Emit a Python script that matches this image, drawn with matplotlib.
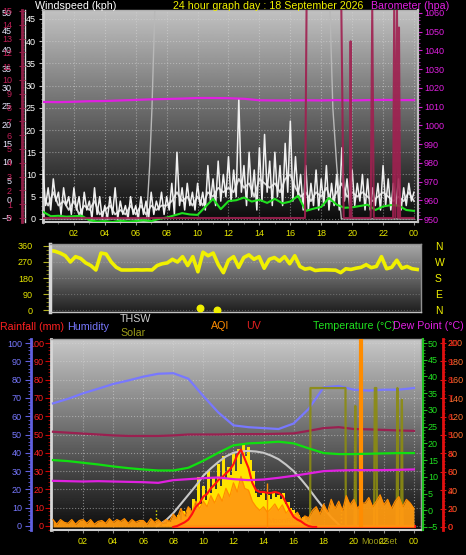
import numpy as np
import matplotlib.pyplot as plt
from matplotlib.ticker import MultipleLocator

plt.rcParams['font.family'] = ['Liberation Sans', 'DejaVu Sans']

W, H, DPI = 466, 555, 100

hour_ticks = [2, 4, 6, 8, 10, 12, 14, 16, 18, 20, 22, 24]
hour_labels = ['02', '04', '06', '08', '10', '12', '14', '16', '18', '20', '22', '00']

# ---- top panel: gust (kph, every 10 min), speed (every 20 min), average (half hourly), barometer (hourly)
wind_gust = [11, 3, 7, 2, 9, 4, 6, 1, 7, 3, 5, 1, 7, 2, 5, 0, 6, 2, 4, 0, 7, 1, 5, 0,
             3, 0, 5, 1, 7, 0, 4, 1, 3, 0, 5, 1, 3, 0, 5, 1, 4, 0, 6, 1, 4, 2, 6, 1,
             5, 2, 8, 1, 15, 3, 7, 2, 8, 3, 6, 2, 8, 3, 6, 2, 12, 4, 9, 3, 13, 4, 10, 5,
             14, 4, 11, 5, 27, 6, 12, 3, 15, 5, 11, 2, 16, 4, 19, 6, 13, 3, 15, 5, 12, 3, 17, 6,
             22, 4, 14, 5, 10, 2, 12, 2, 8, 3, 11, 2, 9, 3, 12, 2, 8, 3, 10, 2, 16, 4, 9, 3,
             11, 3, 8, 4, 10, 2, 9, 2, 7, 3, 8, 2, 12, 3, 9, 2, 8, 3, 9, 2, 7, 3, 8, 4, 6]
wind_speed = [5, 3, 6, 3, 4, 2, 4, 1, 3, 2, 4, 1, 2, 3, 1, 2, 1, 3, 1, 3, 1, 3, 2, 3,
              3, 4, 6, 4, 5, 3, 5, 3, 6, 5, 7, 6, 7, 6, 9, 7, 8, 5, 9, 8, 7, 8, 6, 9,
              10, 7, 5, 6, 4, 6, 5, 7, 4, 6, 8, 5, 6, 5, 6, 5, 4, 5, 6, 5, 4, 5, 4, 6, 4]
wind_avg = [1.6, 0.6, 0.7, 0.5, 0.6, 0.7, -0.3, -0.6, -0.5, -0.7,
            -0.4, -0.6, -0.5, -0.3, -0.5, 0.0, 0.3, 0.8, 1.3, 1.0,
            0.9, 2.7, 4.5, 2.2, 4.0, 4.2, 4.8, 3.9, 4.3, 3.6,
            4.5, 3.5, 3.9, 5.2, 1.8, 2.3, 2.7, 4.7, 3.2, 2.5,
            2.6, 2.9, 3.2, 2.0, 2.8, 3.1, 3.0, 2.0, 1.8]
baro_hpa = [1012.5, 1012.4, 1012.6, 1012.9, 1013.0, 1013.3, 1013.6, 1013.9, 1014.1,
            1014.3, 1014.6, 1014.6, 1014.5, 1014.2, 1013.4, 1013.3, 1013.3, 1013.4,
            1013.3, 1013.5, 1013.3, 1013.5, 1013.6, 1013.5, 1013.5]
sun_t = [0, 6.7, 6.9, 7.05, 7.25, 18.55, 18.75, 19.0, 19.3, 24]
sun_v = [0, 0, 12, 25, 49, 49, 25, 12, 0, 0]
rate_t = [0, 16.95, 17.05, 19.3, 19.45, 19.85, 19.9, 19.95, 21.2, 21.3, 21.4,
          22.65, 22.72, 22.8, 22.9, 22.98, 23.03, 23.1, 24]
rate_v = [0, 0, 15.2, 15.2, 0, 0, 12.8, 0, 0, 15.2, 0, 0, 15.2, 0, 15.2, 0, 13.8, 0, 0]

# ---- middle panel: wind direction (deg, every 20 min)
wind_dir = [335, 330, 320, 305, 270, 300, 290, 265, 250, 225, 320, 315,
            270, 240, 225, 225, 225, 226, 225, 226, 225, 250, 260, 265,
            285, 270, 300, 250, 300, 215, 325, 305, 320, 255, 210, 280,
            300, 240, 295, 310, 285, 300, 235, 285, 295, 275, 300, 260,
            305, 245, 230, 235, 222, 225, 226, 225, 224, 210, 232, 228,
            235, 240, 255, 238, 245, 300, 232, 240, 280, 235, 245, 232, 228]
calm_t = [9.8, 10.9]
calm_v = [13, 0]
compass = ['N', 'E', 'S', 'W', 'N']

# ---- bottom panel (hourly unless noted)
humidity = [67, 69.5, 72.5, 75, 77.6, 79.5, 81.6, 83.2, 83.5, 80.5, 71, 62, 55,
            54, 53.5, 53, 56, 64, 75.8, 76.5, 74.5, 74, 74.5, 74.5, 75.4]
crimson = [51.5, 51, 50.5, 50, 49.5, 49.2, 49.2, 49.2, 49.5, 50, 50, 50, 50.2,
           50.2, 50.2, 50.4, 50.6, 52, 53.5, 54, 53, 52.8, 52.5, 52.2, 52]
temp_c = [15.0, 14.7, 14.2, 13.7, 13.1, 12.6, 12.2, 11.9, 11.9, 12.7, 14.8, 17.2, 19.4,
          20.0, 20.2, 20.5, 20.0, 18.5, 17.1, 16.8, 16.8, 16.9, 17.0, 17.1, 17.1]
dew_c = [8.8, 8.7, 8.6, 8.7, 8.6, 8.5, 8.4, 8.2, 9.0, 9.3, 9.6, 9.8, 9.3,
         9.0, 9.2, 9.7, 10.3, 11.0, 11.7, 11.9, 12.0, 12.0, 12.0, 12.1, 12.2]
thsw_t = [6.9, 7.5, 8, 8.5, 9, 9.5, 10, 10.5, 11, 11.5, 12, 12.5, 13,
          13.5, 14, 14.5, 15, 15.5, 16, 16.5, 17, 17.5, 18, 18.5, 19.1]
thsw_v = [0, 3, 7, 12, 17, 22, 27.5, 31.5, 35, 38, 40, 40.8, 41,
          40.7, 40, 38.5, 36.5, 33.5, 30, 25.5, 20.5, 15, 9.8, 4.8, 0]
solar_start = 7.0  # 10 minute values
solar = [0, 0, 1, 1, 2, 2, 3, 4, 6, 3, 8, 5, 10, 6, 15, 9, 27, 12,
         22, 14, 30, 18, 26, 20, 34, 22, 38, 26, 32, 28, 40, 30, 42, 34, 44, 38,
         43, 36, 30, 18, 16, 17, 18, 14, 17, 15, 18, 16, 17, 15, 18, 12, 13, 10,
         9, 7, 6, 4, 5, 3, 2, 1, 0]
uv_start = 8.0  # 15 minute values
uv = [0, 0.05, 0.15, 0.25, 0.4, 0.7, 1.1, 1.3, 1.65, 1.8, 2.1, 2.3, 2.55, 2.7, 2.9, 3.1,
      3.4, 3.9, 4.2, 3.7, 3.2, 2.4, 2.0, 1.9, 1.9, 1.85, 1.85, 1.9, 1.85, 1.7, 1.3, 0.9,
      0.55, 0.4, 0.3, 0.15, 0.05, 0.0, 0.0]
aqi = [8, 3, 8, 5, 4, 8, 3, 7, 8, 4, 8, 3, 6, 7, 4, 9, 5, 8, 6, 9, 4, 8, 5, 7,
       7, 3, 9, 5, 8, 4, 8, 6, 14, 9, 20, 12, 22, 16, 28, 20, 28, 22, 34, 26,
       36, 28, 42, 33, 48, 38, 55, 42, 40, 28, 22, 18, 22, 16, 20, 25, 18, 24, 15, 20,
       12, 16, 8, 12, 10, 18, 22, 14, 25, 16, 30, 20, 28, 18, 34, 24, 30, 20, 26, 26,
       32, 22, 28, 35, 24, 30, 20, 28, 33, 22, 30, 26, 20]
aqi_spike_t = [14.2, 20.45]
aqi_spike_v = [48, 205]
olive_t = [17.1, 17.12, 19.45, 19.47, 20.05, 20.1, 20.15, 21.35, 21.4, 21.5, 21.55,
           22.85, 22.9, 22.95, 23.15, 23.2, 23.25, 24]
olive_v = [0, 75.4, 75.4, 0, 0, 65.6, 0, 0, 75.4, 75.4, 0, 0, 75.4, 0, 0, 69, 0, 0]
rain_t = [8.1, 24]
rain_v = [0, 0]
sun_marks = [6.85, 19.15]


def box(x0, y0, x1, y1):
    return [x0 / W, 1 - y1 / H, (x1 - x0) / W, (y1 - y0) / H]


def pts(px):
    return px * 72 / DPI


def shade(ax, top, bottom):
    g = np.linspace(bottom, top, 256).reshape(-1, 1)
    ax.imshow(g, cmap='gray', vmin=0, vmax=1, aspect='auto', origin='lower',
              extent=[0, 1, 0, 1], transform=ax.transAxes, zorder=0)


def only_spine(ax, side, color, lw, outward=0):
    for name, sp in ax.spines.items():
        sp.set_visible(name == side)
    ax.spines[side].set_color(color)
    ax.spines[side].set_linewidth(lw)
    ax.spines[side].set_position(('outward', pts(outward)))
    if side == 'left':
        ax.yaxis.tick_left()
    else:
        ax.yaxis.tick_right()


fig = plt.figure(figsize=(W / DPI, H / DPI), dpi=DPI, facecolor='black')

# ================= top panel =================
ax1 = fig.add_axes(box(43, 10, 418, 222))
shade(ax1, 0.76, 0.04)
ax1.set_xlim(0, 24.26)
ax1.set_ylim(-0.7, 47)
ax1.set_xticks(hour_ticks, hour_labels)
ax1.xaxis.set_minor_locator(MultipleLocator(1))
ax1.set_yticks(range(0, 50, 5))
ax1.yaxis.set_minor_locator(MultipleLocator(1))
ax1.grid(True, which='major', color='#d8d8d8', ls=':', lw=0.8, alpha=0.5)
ax1.tick_params(axis='y', which='major', colors='#c0c0c0', labelcolor='white',
                labelsize=6.5, length=pts(4), pad=pts(3))
ax1.tick_params(axis='y', which='minor', colors='#909090', length=pts(2))
ax1.tick_params(axis='x', which='major', colors='#909090', labelcolor='#e8e800',
                labelsize=6.5, length=pts(3), pad=pts(4))
ax1.tick_params(axis='x', which='minor', colors='#707070', length=pts(2))
for name, c, lw in [('left', '#d0d0d0', 2), ('bottom', '#c8c8c8', 1.5),
                    ('top', '#b0b0b0', 1), ('right', '#c0c0c0', 1.5)]:
    ax1.spines[name].set_color(c)
    ax1.spines[name].set_linewidth(lw)

ax1.plot(sun_t, sun_v, color='#b8b8b8', lw=1, zorder=2)
ax1.plot(np.linspace(0, 24, len(wind_speed)), wind_speed, color='#d8d8d8', lw=1.3, zorder=3)
ax1.plot(np.linspace(0, 24, len(wind_gust)), wind_gust, color='#f0f0f0', lw=1.1, zorder=3)
ax1.plot(np.linspace(0, 24, len(wind_avg)), wind_avg, color='#20e020', lw=1.5, zorder=4)

ax_baro = ax1.twinx()
only_spine(ax_baro, 'right', '#c0c0c0', 1.5)
ax_baro.set_ylim(948.4, 1061.6)
ax_baro.set_yticks(range(950, 1061, 10))
ax_baro.yaxis.set_minor_locator(MultipleLocator(2))
ax_baro.tick_params(axis='y', which='major', colors='#d020d0', labelcolor='#e020e0',
                    labelsize=6.5, length=pts(4), pad=pts(2))
ax_baro.tick_params(axis='y', which='minor', colors='#b020b0', length=pts(2))
ax_baro.plot(np.linspace(0, 24, len(baro_hpa)), baro_hpa, color='#e020e0', lw=1.6)

ax_wt = ax1.twinx()
only_spine(ax_wt, 'left', '#e0e0e0', 1, outward=18)
ax_wt.set_ylim(-6.07, 50.6)
ax_wt.set_yticks(range(-5, 51, 5))
ax_wt.tick_params(axis='y', labelcolor='#e8e8ff', labelsize=6.5, length=0, pad=pts(13))

ax_red = ax1.twinx()
only_spine(ax_red, 'left', '#902048', 2, outward=21)
ax_red.set_ylim(-0.29, 15.07)
ax_red.set_yticks(range(0, 16))
ax_red.yaxis.set_minor_locator(MultipleLocator(0.25))
ax_red.tick_params(axis='y', which='major', direction='inout', colors='#a02050',
                   labelcolor='#c02058', labelsize=6.5, length=pts(6), pad=pts(7))
ax_red.tick_params(axis='y', which='minor', direction='inout', colors='#a02050',
                   length=pts(3))
ax_red.plot(rate_t, rate_v, color='#a02050', lw=1.5, alpha=0.9)

# ================= middle panel =================
ax2 = fig.add_axes(box(50, 244, 421, 312))
shade(ax2, 0.66, 0.12)
ax2.set_xlim(0, 24.25)
ax2.set_ylim(-11, 371)
ax2.set_xticks([])
ax2.set_yticks([0, 90, 180, 270, 360])
ax2.yaxis.set_minor_locator(MultipleLocator(22.5))
ax2.grid(True, axis='y', color='#c0c0c0', ls=':', lw=0.8, alpha=0.35)
ax2.tick_params(axis='y', which='major', colors='#b0b020', labelcolor='#e8e800',
                labelsize=6.5, length=pts(7), pad=pts(10))
ax2.tick_params(axis='y', which='minor', colors='#909010', length=pts(4))
for name, c, lw in [('left', '#d8d8d8', 2.5), ('bottom', '#c0c0c0', 1),
                    ('top', '#909090', 1), ('right', '#909090', 1)]:
    ax2.spines[name].set_color(c)
    ax2.spines[name].set_linewidth(lw)
ax2.plot(np.linspace(0, 24, len(wind_dir)), wind_dir, color='#f0f000', lw=2.6,
         solid_joinstyle='round')
ax2.scatter(calm_t, calm_v, s=22, color='#f0f000', zorder=5)

ax2r = ax2.twinx()
for sp in ax2r.spines.values():
    sp.set_visible(False)
ax2r.set_ylim(-11, 371)
ax2r.set_yticks([0, 90, 180, 270, 360], compass)
ax2r.tick_params(axis='y', labelcolor='#f0f000', labelsize=7.5, length=0, pad=pts(14))

# ================= bottom panel =================
ax3 = fig.add_axes(box(51, 339, 421, 530))
shade(ax3, 0.78, 0.05)
ax3.set_xlim(-0.13, 24.47)
ax3.set_ylim(-2.2, 102.2)
ax3.set_xticks(hour_ticks, hour_labels)
ax3.xaxis.set_minor_locator(MultipleLocator(1))
ax3.set_yticks(range(0, 101, 10))
ax3.yaxis.set_minor_locator(MultipleLocator(2))
ax3.grid(True, which='major', color='#d8d8d8', ls=':', lw=0.8, alpha=0.5)
ax3.tick_params(axis='y', which='major', colors='#d00000', labelcolor='#ff2020',
                labelsize=6.5, length=pts(6), pad=pts(1))
ax3.tick_params(axis='y', which='minor', colors='#b00000', length=pts(3))
ax3.tick_params(axis='x', which='major', colors='#909090', labelcolor='#e8e800',
                labelsize=6.5, length=pts(3), pad=pts(4))
ax3.tick_params(axis='x', which='minor', colors='#707070', length=pts(2))
for name, c, lw in [('left', '#d8d8d8', 2), ('bottom', '#d0d0d0', 1.5),
                    ('top', '#a0a0a0', 1), ('right', '#a0a0a0', 1)]:
    ax3.spines[name].set_color(c)
    ax3.spines[name].set_linewidth(lw)

t_hour = np.linspace(0, 24, len(humidity))
t_solar = solar_start + np.arange(len(solar)) / 6
ax3.fill_between(t_solar, solar, step='mid', color='#ffe400', lw=0, zorder=2)
ax3.plot(thsw_t, thsw_v, color='#c8c8c8', lw=1.5, zorder=3)
ax3.plot(t_hour, humidity, color='#7878ff', lw=1.6, zorder=3)
ax3.plot(t_hour, crimson, color='#9a2050', lw=1.6, zorder=3)
ax3.plot(olive_t, olive_v, color='#8c8c10', lw=1.6, alpha=0.9, zorder=3)
ax3.vlines(sun_marks, 0, 9, colors='#e8e800', linestyles=':', lw=1, zorder=3)
ax3.plot(rain_t, rain_v, color='#ff1010', lw=2.2, zorder=4)
ax3.text(15.4, 0.8, 'MoonRise', color='#e03020', fontsize=5.5, ha='center',
         va='bottom', alpha=0.7, zorder=4)

ax_hum = ax3.twinx()
only_spine(ax_hum, 'left', '#6060e0', 2, outward=20)
ax_hum.set_ylim(-2.2, 102.2)
ax_hum.set_yticks(range(0, 101, 10))
ax_hum.yaxis.set_minor_locator(MultipleLocator(2))
ax_hum.tick_params(axis='y', which='major', colors='#6060e0', labelcolor='#7878ff',
                   labelsize=6.5, length=pts(6), pad=pts(3))
ax_hum.tick_params(axis='y', which='minor', colors='#6060e0', length=pts(3))

ax_aqi = ax3.twinx()
only_spine(ax_aqi, 'right', '#e01010', 2, outward=22)
ax_aqi.set_ylim(-3.3, 204.3)
ax_aqi.set_yticks(range(0, 201, 20))
ax_aqi.yaxis.set_minor_locator(MultipleLocator(4))
ax_aqi.tick_params(axis='y', which='major', direction='inout', colors='#e01010',
                   labelcolor='#ff7030', labelsize=6.5, length=pts(6), pad=pts(2))
ax_aqi.tick_params(axis='y', which='minor', direction='inout', colors='#c01010',
                   length=pts(3))
t_aqi = np.linspace(0, 24, len(aqi))
ax_aqi.fill_between(t_aqi, aqi, color='#ff9a10', lw=0, alpha=0.95)
ax_aqi.plot(t_aqi, aqi, color='#ff8c00', lw=0.9)
ax_aqi.vlines(aqi_spike_t, 0, aqi_spike_v, colors='#ff8c00', lw=[1, 3])

ax_uv = ax3.twinx()
for sp in ax_uv.spines.values():
    sp.set_visible(False)
ax_uv.spines['right'].set_position(('outward', pts(22)))
ax_uv.set_ylim(-0.165, 10.2)
ax_uv.set_yticks(range(0, 11))
ax_uv.tick_params(axis='y', direction='inout', colors='none', labelcolor='#d81010',
                  labelsize=6.5, length=pts(6), pad=pts(2))
ax_uv.plot(uv_start + np.arange(len(uv)) / 4, uv, color='#ff1010', lw=1.5)

ax_t = ax3.twinx()
only_spine(ax_t, 'right', '#20c020', 1.5, outward=2)
ax_t.set_ylim(-5.9, 51.2)
ax_t.set_yticks(range(-5, 51, 5))
ax_t.yaxis.set_minor_locator(MultipleLocator(1))
ax_t.tick_params(axis='y', which='major', colors='#20c020', labelcolor='#20e020',
                 labelsize=6.5, length=pts(4), pad=pts(1))
ax_t.tick_params(axis='y', which='minor', colors='#20a020', length=pts(2))
ax_t.plot(t_hour, temp_c, color='#10e010', lw=1.6)
ax_t.plot(t_hour, dew_c, color='#e020e0', lw=1.6)


# ================= header texts =================
def label(x, y, s, color):
    fig.text(x / W, 1 - y / H, s, color=color, fontsize=7.7, va='center', ha='left')


label(35, 6, 'Windspeed (kph)', 'white')
label(173, 6, '24 hour graph day : 18 September 2026', '#f0f000')
label(371, 6, 'Barometer (hpa)', '#e020e0')
label(0, 327, 'Rainfall (mm)', '#ff2020')
label(67, 327, 'Humidity', '#7878ff')
label(120, 319, 'THSW', '#d0d0d0')
label(120, 333, 'Solar', '#9a9a18')
label(211, 326, 'AQI', '#ff8c00')
label(246, 326, 'UV', '#e02020')
label(313, 326, 'Temperature (°C)', '#20e020')
label(393, 326, 'Dew Point (°C)', '#e020e0')
fig.text(379 / W, 1 - 541 / H, 'MoonSet', color='#9a9a18', fontsize=6.5,
         ha='center', va='center')

fig.savefig('out.png', dpi=DPI, facecolor='black')
